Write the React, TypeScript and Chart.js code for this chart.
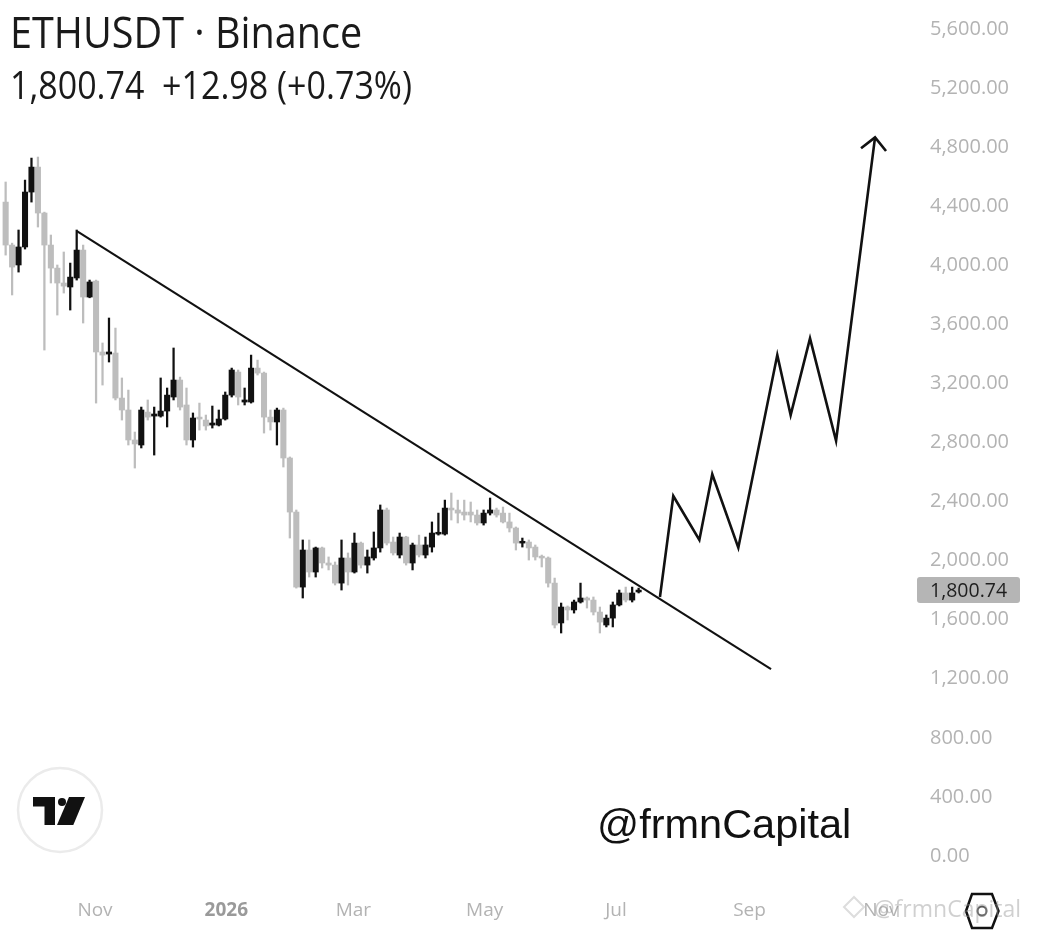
import React, { useEffect, useRef } from "react";
import { Chart, registerables } from "chart.js";

Chart.register(...registerables);

// ---------------- data ----------------
// x values are days relative to 1 Nov 2025; candles are 3-day candles
const FIRST_CANDLE_DAY = -41.5;
const CANDLE_STEP_DAYS = 3;

const opens = [
  4428, 4137, 4002, 4124, 4496, 4665, 4354, 4137, 3981, 3880,
  3853, 3914, 4103, 3785, 3893, 3413, 3399, 3406, 3101, 3020,
  2817, 2783, 3006, 2979, 2979, 3013, 3108, 3223, 3054, 2817,
  2972, 2952, 2918, 2918, 2959, 3121, 3277, 3074, 3074, 3304,
  3270, 2972, 2939, 3020, 2695, 2329, 1821, 2072, 1923, 2086,
  1984, 1970, 1848, 2018, 1923, 2119, 1970, 2018, 2086, 2343,
  2126, 2038, 2160, 1984, 2106, 2038, 2092, 2180, 2180, 2356,
  2343, 2329, 2329, 2309, 2255, 2322, 2343, 2322, 2262, 2221,
  2119, 2126, 2092, 2025, 2018, 1848, 1578, 1686, 1666, 1720,
  1747, 1733, 1652, 1564, 1611, 1700, 1781, 1733, 1788,
];
const highs = [
  4564, 4150, 4239, 4577, 4726, 4733, 4360, 4205, 4002, 4090,
  4015, 4239, 4137, 3900, 3900, 3474, 3643, 3575, 3237, 3155,
  2871, 3040, 3088, 3040, 3237, 3169, 3440, 3243, 3169, 3000,
  3067, 2986, 3047, 3020, 3142, 3304, 3291, 3169, 3392, 3358,
  3277, 3020, 3033, 3033, 2702, 2343, 2140, 2140, 2092, 2092,
  2025, 1991, 2140, 2052, 2187, 2126, 2072, 2194, 2377, 2356,
  2160, 2187, 2165, 2119, 2173, 2160, 2262, 2322, 2410, 2458,
  2410, 2410, 2397, 2343, 2343, 2424, 2356, 2363, 2322, 2228,
  2153, 2140, 2106, 2038, 2025, 1882, 1713, 1693, 1733, 1848,
  1754, 1754, 1686, 1632, 1720, 1801, 1821, 1821, 1814,
];
const lows = [
  4069, 3799, 3954, 4110, 4428, 4259, 3426, 3880, 3663, 3812,
  3697, 3900, 3609, 3780, 3067, 3189, 3345, 3088, 2952, 2783,
  2627, 2763, 2952, 2715, 2972, 2905, 3088, 3020, 2783, 2769,
  2884, 2884, 2898, 2912, 2952, 3108, 3054, 3054, 3067, 3257,
  2864, 2884, 2783, 2634, 2153, 1814, 1747, 1889, 1889, 1950,
  1937, 1835, 1801, 1835, 1916, 1950, 1916, 2004, 2058, 2106,
  2038, 2018, 1970, 1937, 2025, 2018, 2058, 2173, 2173, 2275,
  2255, 2275, 2262, 2241, 2241, 2309, 2295, 2255, 2194, 2072,
  2092, 2004, 2004, 1957, 1821, 1544, 1510, 1598, 1645, 1713,
  1679, 1632, 1510, 1551, 1551, 1693, 1720, 1720, 1781,
];
const closes = [
  4137, 3988, 4124, 4496, 4665, 4354, 4137, 3981, 3880, 3859,
  3920, 4103, 3785, 3887, 3413, 3392, 3413, 3101, 3020, 2817,
  2790, 3020, 2972, 2993, 3013, 3121, 3223, 3040, 2817, 2966,
  2959, 2912, 2932, 2959, 3121, 3291, 3108, 3088, 3304, 3270,
  2972, 2939, 3020, 2695, 2329, 1821, 2072, 1923, 2086, 1984,
  1970, 1848, 2018, 1923, 2119, 1970, 2025, 2086, 2343, 2119,
  2052, 2160, 1984, 2106, 2038, 2106, 2187, 2187, 2356, 2343,
  2322, 2309, 2309, 2255, 2322, 2343, 2309, 2262, 2221, 2119,
  2126, 2086, 2025, 2018, 1848, 1564, 1686, 1666, 1720, 1747,
  1733, 1652, 1584, 1611, 1700, 1781, 1733, 1781, 1800.74,
];

const monthTickDays = [0, 61, 120, 181, 242, 304, 365];
const monthTickLabels = ["Nov", "2026", "Mar", "May", "Jul", "Sep", "Nov"];

const priceTicks = [
  0, 400, 800, 1200, 1600, 2000, 2400, 2800, 3200, 3600, 4000, 4400, 4800,
  5200, 5600,
];

const trendDays = [-8.4, 314];
const trendPrices = [4232, 1266];

const projectionDays = [262.4, 268.6, 280.7, 286.7, 298.8, 316.9, 323.1, 332.1, 344.2, 362.3];
const projectionPrices = [1754, 2438, 2140, 2585, 2088, 3392, 2986, 3505, 2812, 4866];

const arrowHeadDays = [355.8, 362.3, 367.4];
const arrowHeadPrices = [4792, 4866, 4774];

const LAST_PRICE = 1800.74;
const LAST_PRICE_TEXT = "1,800.74";

// ---------------- styles ----------------
const UP_COLOR = "#111111";
const DOWN_COLOR = "#bdbdbd";
const AXIS_TEXT = "#b3b3b3";
const FONT = "'Open Sans', 'Noto Sans', sans-serif";

const fmtPrice = (v: number) =>
  v.toLocaleString("en-US", { minimumFractionDigits: 2, maximumFractionDigits: 2 });

const lastPriceTag = {
  id: "lastPriceTag",
  afterDraw(chart: any) {
    const { ctx, chartArea } = chart;
    const y = chart.scales.y;
    const py = y.getPixelForValue(LAST_PRICE);
    const x0 = chartArea.right + 2;
    const w = 103;
    const h = 26;
    ctx.save();
    ctx.fillStyle = "#b5b5b5";
    ctx.beginPath();
    if (ctx.roundRect) ctx.roundRect(x0, py - h / 2, w, h, 3);
    else ctx.rect(x0, py - h / 2, w, h);
    ctx.fill();
    ctx.fillStyle = "#1e1e1e";
    ctx.font = `19.5px ${FONT}`;
    ctx.textBaseline = "middle";
    ctx.textAlign = "left";
    ctx.fillText(LAST_PRICE_TEXT, chartArea.right + 15, py + 1);
    ctx.restore();
  },
};

function CandleChart() {
  const canvasRef = useRef<HTMLCanvasElement | null>(null);

  useEffect(() => {
    const canvas = canvasRef.current;
    if (!canvas) return;

    const days = opens.map((_, i) => FIRST_CANDLE_DAY + i * CANDLE_STEP_DAYS);
    const colors = opens.map((o, i) => (closes[i] >= o ? UP_COLOR : DOWN_COLOR));

    const chart = new Chart(canvas, {
      type: "bar",
      data: {
        datasets: [
          {
            type: "line",
            data: projectionDays.map((d, i) => ({ x: d, y: projectionPrices[i] })),
            borderColor: "#111",
            borderWidth: 2.6,
            pointRadius: 0,
            borderJoinStyle: "miter",
            tension: 0,
            order: 0,
          } as any,
          {
            type: "line",
            data: arrowHeadDays.map((d, i) => ({ x: d, y: arrowHeadPrices[i] })),
            borderColor: "#111",
            borderWidth: 2.6,
            pointRadius: 0,
            borderJoinStyle: "miter",
            tension: 0,
            order: 0,
          } as any,
          {
            type: "line",
            data: trendDays.map((d, i) => ({ x: d, y: trendPrices[i] })),
            borderColor: "#111",
            borderWidth: 2.1,
            pointRadius: 0,
            tension: 0,
            order: 1,
          } as any,
          {
            type: "bar",
            data: days.map((d, i) => ({ x: d, y: [opens[i], closes[i]] })),
            backgroundColor: colors,
            borderWidth: 0,
            barThickness: 5.4,
            minBarLength: 1.8,
            grouped: false,
            order: 2,
          } as any,
          {
            type: "bar",
            data: days.map((d, i) => ({ x: d, y: [lows[i], highs[i]] })),
            backgroundColor: colors,
            borderWidth: 0,
            barThickness: 1.6,
            grouped: false,
            order: 3,
          } as any,
        ],
      },
      options: {
        animation: false,
        responsive: true,
        maintainAspectRatio: false,
        events: [],
        layout: { padding: 0 },
        plugins: {
          legend: { display: false },
          tooltip: { enabled: false },
          title: { display: false },
        },
        scales: {
          x: {
            type: "linear",
            offset: false,
            min: -44.12,
            max: 380.86,
            grid: { display: false, drawTicks: false },
            border: { display: false },
            afterBuildTicks: (scale: any) => {
              scale.ticks = monthTickDays.map((v) => ({ value: v }));
            },
            afterFit: (scale: any) => {
              scale.height = 42;
              scale.paddingLeft = 0;
              scale.paddingRight = 0;
            },
            ticks: {
              autoSkip: false,
              maxRotation: 0,
              padding: 9,
              callback: (_v: any, i: number) => monthTickLabels[i],
              color: (ctx: any) => (ctx.index === 1 ? "#9a9a9a" : AXIS_TEXT),
              font: (ctx: any) => ({
                family: FONT,
                size: 19,
                weight: ctx.index === 1 ? "bold" : "normal",
              }),
            },
          },
          y: {
            type: "linear",
            position: "right",
            min: -230.2,
            max: 5796.4,
            grid: { display: false, drawTicks: false },
            border: { display: false },
            afterBuildTicks: (scale: any) => {
              scale.ticks = priceTicks.map((v) => ({ value: v }));
            },
            afterFit: (scale: any) => {
              scale.width = 125;
              scale.paddingTop = 0;
              scale.paddingBottom = 0;
            },
            ticks: {
              padding: 15,
              color: AXIS_TEXT,
              font: { family: FONT, size: 20 },
              callback: (v: any) => fmtPrice(Number(v)),
            },
          },
        },
      } as any,
      plugins: [lastPriceTag],
    });

    return () => chart.destroy();
  }, []);

  return <canvas ref={canvasRef} />;
}

export default function App() {
  return (
    <div
      style={{
        position: "fixed",
        left: 0,
        top: 0,
        width: 1040,
        height: 932,
        background: "#ffffff",
        overflow: "hidden",
        fontFamily: FONT,
      }}
    >
      <div style={{ position: "absolute", left: 0, top: 0, width: 1040, height: 932 }}>
        <CandleChart />
      </div>

      <svg
        width={1040}
        height={932}
        style={{ position: "absolute", left: 0, top: 0, pointerEvents: "none" }}
      >
        {/* TradingView badge */}
        <circle cx={60} cy={810} r={42} fill="#ffffff" stroke="#ebebeb" strokeWidth={2.5} />
        <polygon points="33,797 55,797 55,825 44.5,825 44.5,806.5 33,806.5" fill="#111" />
        <circle cx={62} cy={802} r={4} fill="#111" />
        <polygon points="69,797 85,797 73.3,825 57,825" fill="#111" />
        {/* watermark hexagon */}
        <polygon
          points="972,894 992,894 998.5,911 992,928 972,928 966,911"
          fill="none"
          stroke="#111"
          strokeWidth={2.5}
        />
        <circle cx={982} cy={911} r={4.5} fill="none" stroke="#555" strokeWidth={2} />
        <polygon
          points="854,897 864,907 854,917 844,907"
          fill="none"
          stroke="#dddddd"
          strokeWidth={2}
        />
      </svg>

      <div
        style={{
          position: "absolute",
          left: 10,
          top: 10,
          fontSize: 43,
          lineHeight: "43px",
          color: "#1a1a1a",
          whiteSpace: "nowrap",
          transform: "scaleX(0.92)",
          transformOrigin: "left top",
        }}
      >
        ETHUSDT · Binance
      </div>
      <div
        style={{
          position: "absolute",
          left: 10,
          top: 65,
          fontSize: 38,
          lineHeight: "38px",
          color: "#1a1a1a",
          whiteSpace: "pre",
          transform: "scaleX(0.895)",
          transformOrigin: "left top",
        }}
      >
        {"1,800.74  +12.98 (+0.73%)"}
      </div>

      <div
        style={{
          position: "absolute",
          left: 597,
          top: 800,
          fontSize: 41.5,
          lineHeight: "48px",
          fontFamily: "'Liberation Sans', Arial, sans-serif",
          color: "#111",
          whiteSpace: "nowrap",
        }}
      >
        @frmnCapital
      </div>

      <div
        style={{
          position: "absolute",
          left: 874,
          top: 893,
          fontSize: 23,
          lineHeight: "30px",
          color: "rgba(150,150,150,0.45)",
          whiteSpace: "nowrap",
        }}
      >
        @frmnCapital
      </div>
    </div>
  );
}
